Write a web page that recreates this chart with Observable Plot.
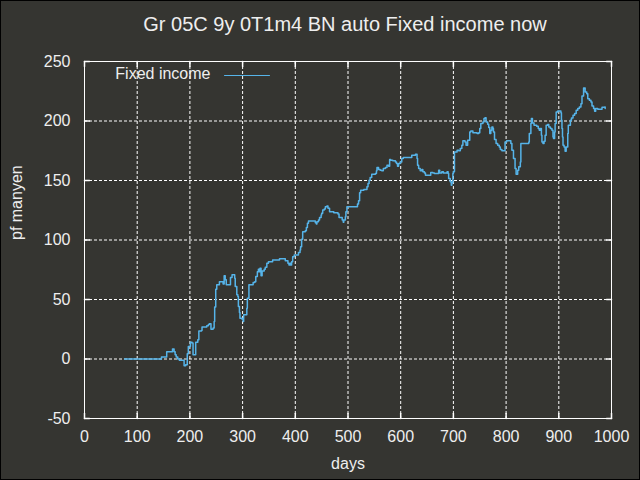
<!DOCTYPE html>
<html><head><meta charset="utf-8">
<script src="https://cdn.jsdelivr.net/npm/d3@7"></script>
<script src="https://cdn.jsdelivr.net/npm/@observablehq/plot@0.6"></script>
<style>
html,body{margin:0;padding:0;background:#353531;}
#chart svg{display:block;outline:1px solid #000;outline-offset:-1px;}
</style></head>
<body><div id="chart"></div>
<script>
const title = "Gr 05C 9y 0T1m4 BN auto Fixed income now";
const xLabel = "days";
const yLabel = "pf manyen";
const seriesName = "Fixed income";
const xTicks = [0, 100, 200, 300, 400, 500, 600, 700, 800, 900, 1000];
const yTicks = [-50, 0, 50, 100, 150, 200, 250];
const days = [76,146,156,167,170,172,174,177,180,189,192,195,197,201,204,206,211,215,217,222,223,232,235,237,240,244,246,247,249,251,256,263,265,267,269,277,280,285,286,289,291,292,294,295,299,301,302,308,309,312,320,323,325,328,330,332,333,335,337,341,343,346,349,357,370,381,386,388,390,392,393,395,398,406,409,410,412,414,419,421,423,425,438,440,441,444,446,449,450,452,455,457,460,462,465,473,481,483,489,491,492,495,496,498,518,520,522,524,530,536,538,540,542,545,552,554,555,558,561,564,567,571,574,577,579,581,585,590,592,594,596,599,602,605,621,628,631,632,634,637,640,642,645,647,657,661,664,672,674,678,681,688,690,691,694,696,697,699,700,702,707,710,713,716,718,722,724,727,731,733,737,745,748,750,752,756,758,760,762,765,767,769,771,773,775,776,778,781,784,787,789,792,798,801,809,811,814,817,819,822,824,827,828,843,844,847,848,850,853,858,861,863,865,867,868,870,872,874,876,879,881,884,887,889,890,892,893,895,898,904,905,906,907,908,910,912,914,917,918,922,924,927,930,933,936,939,942,944,947,950,953,955,958,961,963,966,968,970,974,982,987,988];
const values = [0,1.7,6.1,8.4,6.1,3.6,1.7,0,-1.1,-5.6,-4.8,4.4,10.6,14,13.4,3.6,14,16.2,23.5,24,26.8,28,29,29.6,25,26,31.5,43.6,58.7,62.3,65,63.1,70,66.5,62.3,68.4,70.7,67.9,60.9,53.9,52.5,44.1,39,34.3,33.5,31.5,37.1,42.7,51.1,62.3,64.2,65,69.3,73.4,75.4,73.4,76.3,70,74,75.4,77.1,80.5,81.8,83.2,84.3,82.6,80.5,79,80.5,79,81.8,86,87.4,89.4,91.6,94.4,100.6,107,107.8,110.6,114,116,114.5,113.4,115.4,116.8,119,121,122.4,125.2,126,128,128.5,126.6,123.8,122.9,121.8,119,116.8,115,116.8,119.6,123.8,128,130.2,133,139.7,141.9,142.5,144.7,147.5,150.3,152.5,155.3,155.9,158.1,160.9,159.3,158.7,158.1,160.1,160.9,162.9,162,167.6,167,166.5,165.6,164.3,162,164.3,165.6,168.5,169.3,171.3,172.1,168.5,162.9,160.1,158.1,159.3,157.3,156.4,154.5,156.7,156.4,155.9,158.7,156.4,157.3,156.4,157.3,155.9,151.7,148.9,146.1,148.1,155.9,157.3,174,175.4,174.9,176.9,179.6,183.3,182.4,179.6,183.8,190.8,191.6,190.2,189.4,190.2,193.6,197.8,199.2,202,202.8,199.2,197.2,194.5,189.4,192.2,195,193.6,190.8,184.4,181,179.6,178.2,176,174.9,182.4,183.3,181,175.4,168.5,160.1,155.3,158.7,161.5,165.6,181,182.4,189.4,197.8,202,198.3,196.4,195.6,193.6,192.2,193.6,188,182.4,181,183,188,196.4,197,195,193.6,192.2,186.6,185.2,190.8,197.8,207.5,208.4,207,200.6,193.6,186.6,179.6,178.2,174.6,178.2,189.4,196.4,200.6,202.5,204.8,206.2,209,210.4,211.8,214.6,221,227.7,224.3,223,218.8,217.4,216,212.6,210.4,208.1,210.4,209.8,211.5,211.8,210.4];

const bg = "#353531";
const fg = "#eeeeee";
const lineColor = "#56b4e9";
const data = days.map((d, i) => ({day: d, value: values[i]}));
const lineShape = {draw(context, l) { context.moveTo(0, 0); context.lineTo(0, -l); }};
const xDom = [xTicks[0], xTicks[xTicks.length - 1]];
const yDom = [yTicks[0], yTicks[yTicks.length - 1]];
const fmt = d => String(d);

const chart = Plot.plot({
  width: 640, height: 480,
  marginTop: 61, marginRight: 29, marginBottom: 62, marginLeft: 84,
  style: {background: bg, color: fg, fontFamily: "'Liberation Sans', Arial, sans-serif", fontSize: "16px"},
  x: {domain: xDom},
  y: {domain: yDom},
  marks: [
    Plot.gridX(xTicks.slice(1, -1), {stroke: "#ffffff", strokeOpacity: 1, strokeDasharray: "3,2"}),
    Plot.gridY(yTicks.slice(1, -1), {stroke: "#ffffff", strokeOpacity: 1, strokeDasharray: "3,2"}),
    Plot.line(data, {x: "day", y: "value", curve: "step-after", stroke: lineColor, strokeWidth: 1.5}),
    Plot.axisX(xTicks, {tickSize: 0, tickPadding: 12, label: null, tickFormat: fmt, fill: fg, fontSize: 16}),
    Plot.axisY(yTicks, {tickSize: 0, tickPadding: 14, label: null, tickFormat: fmt, fill: fg, fontSize: 16}),
    Plot.vector(xTicks, {x: d => d, y: yDom[0], length: 5, rotate: 0, anchor: "start", shape: lineShape, stroke: "#ffffff"}),
    Plot.vector(xTicks, {x: d => d, y: yDom[1], length: 5, rotate: 180, anchor: "start", shape: lineShape, stroke: "#ffffff"}),
    Plot.vector(yTicks, {x: xDom[0], y: d => d, length: 5, rotate: 90, anchor: "start", shape: lineShape, stroke: "#ffffff"}),
    Plot.vector(yTicks, {x: xDom[1], y: d => d, length: 5, rotate: -90, anchor: "start", shape: lineShape, stroke: "#ffffff"}),
    Plot.frame({stroke: "#ffffff"}),
    Plot.text([title], {frameAnchor: "top", lineAnchor: "middle", dx: -3, dy: -37, fontSize: 20, fill: fg}),
    Plot.text([xLabel], {frameAnchor: "bottom", lineAnchor: "middle", dy: 45, fontSize: 16, fill: fg}),
    Plot.text([yLabel], {frameAnchor: "left", lineAnchor: "middle", dx: -68, rotate: -90, fontSize: 16, fill: fg}),
    Plot.text([seriesName], {frameAnchor: "top-left", lineAnchor: "middle", dx: 126, dy: 12, textAnchor: "end", fontSize: 16, fill: fg}),
    Plot.vector([seriesName], {frameAnchor: "top-left", dx: 140, dy: 14, rotate: 90, length: 45, anchor: "start", shape: lineShape, stroke: lineColor, strokeWidth: 1})
  ]
});
document.getElementById("chart").appendChild(chart);
</script>
</body></html>
